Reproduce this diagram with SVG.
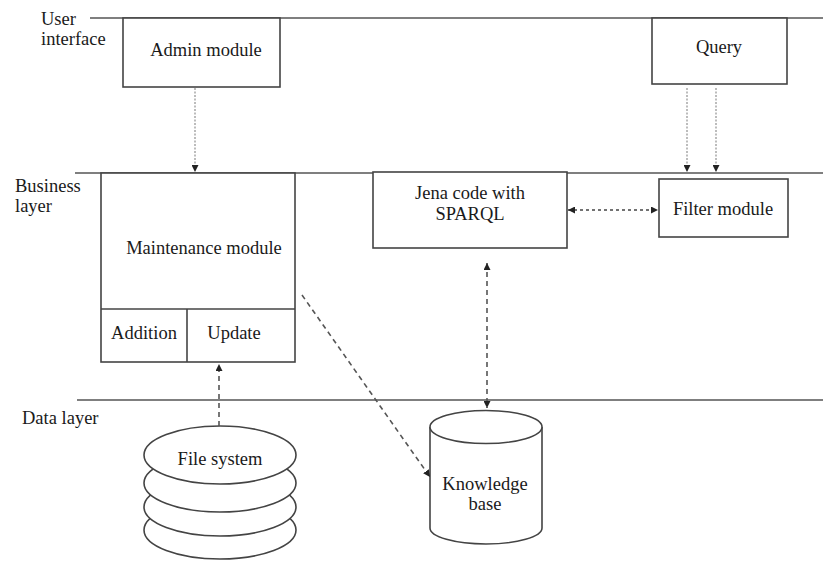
<svg xmlns="http://www.w3.org/2000/svg" width="823" height="561" viewBox="0 0 823 561">
<style>
.t{font-family:"Liberation Serif",serif;font-size:18.5px;fill:#1a1a1a}
.m{text-anchor:middle}
.box{fill:#fff;stroke:#444;stroke-width:1.6}
.layer{stroke:#555;stroke-width:1.6;fill:none}
.dot{stroke:#999;stroke-width:1.3;stroke-dasharray:2 1.5;fill:none}
.dash{stroke:#555;stroke-width:1.6;stroke-dasharray:5 4;fill:none}
.sdash{stroke:#444;stroke-width:1.5;stroke-dasharray:3 3;fill:none}
</style>
<defs>
<marker id="ah" viewBox="0 0 10 10" refX="10" refY="5" markerWidth="7" markerHeight="7" orient="auto-start-reverse" markerUnits="userSpaceOnUse">
<path d="M0,0 L10,5 L0,10 Z" fill="#222"/>
</marker>
</defs>
<g id="layers">
<line class="layer" x1="90" y1="18" x2="823" y2="18"/>
<line class="layer" x1="75" y1="173" x2="823" y2="173"/>
<line class="layer" x1="77" y1="400" x2="823" y2="400"/>
<text class="t" x="41" y="25">User</text>
<text class="t" x="41" y="45">interface</text>
<text class="t" x="15" y="192">Business</text>
<text class="t" x="15" y="212">layer</text>
<text class="t" x="22" y="424">Data layer</text>
</g>
<g id="admin">
<rect class="box" x="123" y="18" width="157" height="69"/>
<text class="t m" x="206" y="56">Admin module</text>
</g>
<g id="query">
<rect class="box" x="652" y="18" width="135" height="66"/>
<text class="t m" x="719" y="53">Query</text>
</g>
<g id="maintenance">
<rect class="box" x="101" y="173" width="194" height="189"/>
<line class="box" x1="101" y1="309" x2="295" y2="309"/>
<line class="box" x1="187" y1="309" x2="187" y2="362"/>
<text class="t m" x="204" y="254">Maintenance module</text>
<text class="t m" x="144" y="339">Addition</text>
<text class="t m" x="234" y="339">Update</text>
</g>
<g id="jena">
<rect class="box" x="373" y="172" width="194" height="76"/>
<text class="t m" x="470" y="199">Jena code with</text>
<text class="t m" x="470" y="220">SPARQL</text>
</g>
<g id="filter">
<rect class="box" x="659" y="179" width="129" height="58"/>
<text class="t m" x="723" y="215">Filter module</text>
</g>
<g id="filesystem">
<ellipse class="box" cx="220" cy="530" rx="76" ry="29"/>
<ellipse class="box" cx="220" cy="507" rx="76" ry="29"/>
<ellipse class="box" cx="220" cy="483" rx="76" ry="29"/>
<ellipse class="box" cx="220" cy="455" rx="76" ry="29"/>
<text class="t m" x="220" y="465">File system</text>
</g>
<g id="knowledge">
<path class="box" d="M430,427 L430,528 A56,16 0 0 0 542,528 L542,427"/>
<ellipse class="box" cx="486" cy="427" rx="56" ry="16.5"/>
<text class="t m" x="485" y="490">Knowledge</text>
<text class="t m" x="485" y="510">base</text>
</g>
<g id="connectors">
<line class="dot" x1="195" y1="88" x2="195" y2="172" marker-end="url(#ah)"/>
<line class="dot" x1="687" y1="88" x2="687" y2="172" marker-end="url(#ah)"/>
<line class="dot" x1="716" y1="88" x2="716" y2="172" marker-end="url(#ah)"/>
<line class="sdash" x1="568" y1="210" x2="658" y2="210" marker-start="url(#ah)" marker-end="url(#ah)"/>
<line class="dash" x1="487" y1="263" x2="487" y2="408" marker-start="url(#ah)" marker-end="url(#ah)"/>
<line class="dash" x1="219" y1="426" x2="219" y2="364" marker-end="url(#ah)"/>
<line class="dash" x1="302" y1="295" x2="430" y2="477" marker-end="url(#ah)"/>
</g>
</svg>
